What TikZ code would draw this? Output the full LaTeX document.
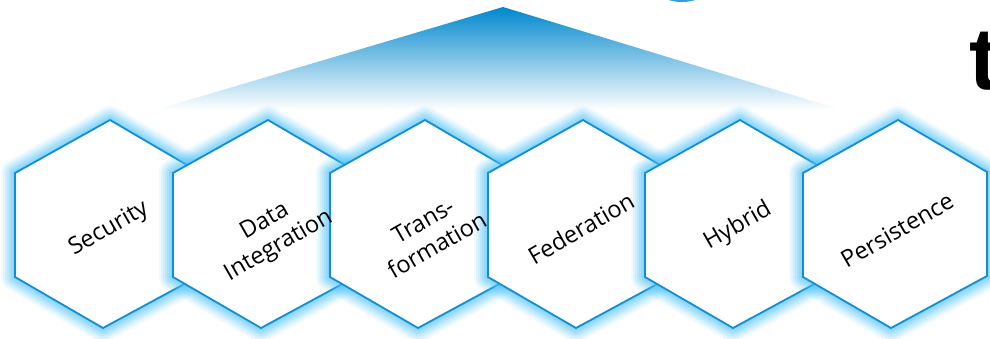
\documentclass[tikz,border=0pt]{standalone}
\usepackage{fontspec}
\setmainfont{Open Sans}
\newfontfamily\titlefont{Liberation Sans}
\definecolor{glowc}{RGB}{80,195,250}
\definecolor{edgec}{RGB}{18,142,212}
\definecolor{tritop}{RGB}{0,136,206}
\definecolor{trimid}{RGB}{140,200,236}
\tikzset{
  hexedge/.style={draw=edgec, line width=1.8pt, fill=white, line join=miter},
  hexglow/.style={draw=glowc, line join=round},
  lab/.style={font=\fontsize{23.5}{28}\selectfont, align=center, rotate=30, inner sep=0pt, text=black}
}
\begin{document}
\begin{tikzpicture}[x=1pt,y=-1pt]
\useasboundingbox (0,0) rectangle (990,338);
% top blue fragment
\fill[tritop!80] (682,-45) circle (47);
% triangle
\shade[top color=tritop, middle color=trimid, bottom color=white] (503,7) -- (842,110) -- (155,110) -- cycle;
% partial title letter
\node[anchor=base west, inner sep=0pt, font=\titlefont\bfseries\fontsize{88}{88}\selectfont] (tletter) at (969,89) {t};
% hexagons
\foreach \cx in {107,265,422,580,737,895}{
  \foreach \w/\o in {28/0.08,24/0.10,20/0.12,16/0.15,12/0.18,8/0.2,4/0.2}{
    \draw[hexglow, line width=\w pt, opacity=\o] ({\cx+3},120) -- ({\cx+92},172) -- ({\cx+92},276) -- ({\cx-4},328) -- ({\cx-92},277) -- ({\cx-92},173) -- cycle;
  }
  \draw[hexedge] ({\cx+3},120) -- ({\cx+92},172) -- ({\cx+92},276) -- ({\cx-4},328) -- ({\cx-92},277) -- ({\cx-92},173) -- cycle;
}
% labels
\foreach \tx/\ty/\lab/\nm in {109/229/Security/h1, 272/234/{Data\\Integration}/h2, 430/233/{Trans-\\formation}/h3, 581/228/Federation/h4, 738/226/Hybrid/h5, 897/230/Persistence/h6}{
  \node[lab] (\nm) at (\tx,\ty) {\lab};
}
\end{tikzpicture}
\end{document}
